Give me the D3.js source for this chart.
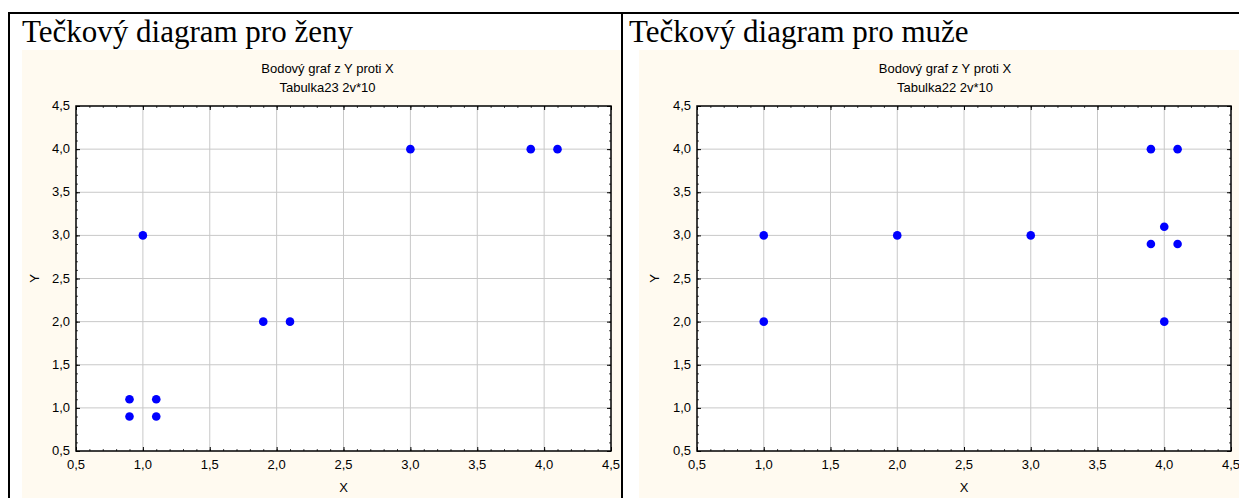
<!DOCTYPE html>
<html>
<head>
<meta charset="utf-8">
<script src="https://cdn.jsdelivr.net/npm/d3@7"></script>
<style>
  body { margin: 0; background: #fff; }
  svg { display: block; }
  text { font-family: "Liberation Sans", Arial, sans-serif; fill: #000; }
  .head { font-family: "Liberation Serif", "Times New Roman", serif; font-size: 31px; }
  .small { font-size: 13px; }
</style>
</head>
<body>
<div id="chart"></div>
<script>
// data
var zenyX = [0.9, 1.1, 0.9, 1.1, 1.0, 1.9, 2.1, 3.0, 3.9, 4.1]
var zenyY = [1.1, 1.1, 0.9, 0.9, 3.0, 2.0, 2.0, 4.0, 4.0, 4.0]
var muziX = [1.0, 1.0, 2.0, 3.0, 3.9, 4.1, 4.0, 3.9, 4.1, 4.0]
var muziY = [3.0, 2.0, 3.0, 3.0, 4.0, 4.0, 3.1, 2.9, 2.9, 2.0]
var ticks = [0.5, 1.0, 1.5, 2.0, 2.5, 3.0, 3.5, 4.0, 4.5]
var headings = ['Tečkový diagram pro ženy', 'Tečkový diagram pro muže']
var subtitles = ['Tabulka23 2v*10', 'Tabulka22 2v*10']

var width = 1239, height = 498

var cz = d3.formatLocale({decimal: ',', thousands: ' ', grouping: [3], currency: ['', ' Kč']})
var fmt = cz.format('.1f')

var svg = d3.select('#chart').append('svg')
    .attr('width', width).attr('height', height)

// panel layout
var panels = [
  {x: zenyX, y: zenyY, bgX: 22, bgW: 599, left: 76, right: 611, headX: 22, labX: 35},
  {x: muziX, y: muziY, bgX: 639, bgW: 600, left: 697, right: 1231, headX: 629, labX: 655}
]
var plotTop = 106, plotBottom = 451

panels.forEach(function(p, i){
  var g = svg.append('g')

  g.append('rect')
    .attr('x', p.bgX).attr('y', 50)
    .attr('width', p.bgW).attr('height', height - 50)
    .attr('fill', '#fffaf0')

  g.append('text').attr('class', 'head')
    .attr('x', p.headX).attr('y', 42)
    .text(headings[i])

  var cx = (p.bgX + p.bgW / 2) + 6
  g.append('text').attr('class', 'small').attr('x', cx).attr('y', 73)
    .attr('text-anchor', 'middle')
    .text('Bodový graf z Y proti X')
  g.append('text').attr('class', 'small').attr('x', cx).attr('y', 92)
    .attr('text-anchor', 'middle')
    .text(subtitles[i])

  var x = d3.scaleLinear().domain([0.5, 4.5]).range([p.left, p.right])
  var y = d3.scaleLinear().domain([0.5, 4.5]).range([plotBottom, plotTop])
  var minor = d3.range(5, 46).map(function(d){ return d / 10 })

  g.append('rect')
    .attr('x', p.left).attr('y', plotTop)
    .attr('width', p.right - p.left).attr('height', plotBottom - plotTop)
    .attr('fill', '#fff')

  // grid
  g.append('g').selectAll('line').data(ticks.slice(1, -1)).enter().append('line')
    .attr('x1', function(d){ return x(d) }).attr('x2', function(d){ return x(d) })
    .attr('y1', plotTop).attr('y2', plotBottom)
    .attr('stroke', '#c8c8c8')
  g.append('g').selectAll('line').data(ticks.slice(1, -1)).enter().append('line')
    .attr('y1', function(d){ return y(d) }).attr('y2', function(d){ return y(d) })
    .attr('x1', p.left).attr('x2', p.right)
    .attr('stroke', '#c8c8c8')

  // axes, ticks pointing inward on all four sides
  function sides(vals, size, color){
    var list = [
      [d3.axisTop(x), 'translate(0,' + plotBottom + ')'],
      [d3.axisBottom(x), 'translate(0,' + plotTop + ')'],
      [d3.axisRight(y), 'translate(' + p.left + ',0)'],
      [d3.axisLeft(y), 'translate(' + p.right + ',0)']
    ]
    list.forEach(function(a){
      var ag = g.append('g').attr('transform', a[1])
        .call(a[0].tickValues(vals).tickSize(size).tickFormat(''))
      ag.select('.domain').remove()
      ag.selectAll('.tick line').attr('stroke', color)
    })
  }
  sides(minor, 2, '#444')
  sides(ticks, 4, '#000')

  g.append('rect')
    .attr('x', p.left).attr('y', plotTop)
    .attr('width', p.right - p.left).attr('height', plotBottom - plotTop)
    .attr('fill', 'none').attr('stroke', '#000').attr('stroke-width', 1.5)

  // tick labels
  g.append('g').selectAll('text').data(ticks).enter().append('text')
    .attr('class', 'small')
    .attr('x', function(d){ return x(d) }).attr('y', plotBottom + 18)
    .attr('text-anchor', 'middle')
    .text(fmt)
  g.append('g').selectAll('text').data(ticks).enter().append('text')
    .attr('class', 'small')
    .attr('x', p.left - 6).attr('y', function(d){ return y(d) + 4 })
    .attr('text-anchor', 'end')
    .text(fmt)

  g.append('text').attr('class', 'small')
    .attr('x', (p.left + p.right) / 2).attr('y', 492)
    .attr('text-anchor', 'middle').text('X')
  g.append('text').attr('class', 'small')
    .attr('transform', 'translate(' + (p.labX + 4) + ',' + ((plotTop + plotBottom) / 2) + ') rotate(-90)')
    .attr('text-anchor', 'middle').text('Y')

  g.append('g').selectAll('circle').data(p.x).enter().append('circle')
    .attr('cx', function(d){ return x(d) })
    .attr('cy', function(d, j){ return y(p.y[j]) })
    .attr('r', 4.3)
    .attr('fill', '#0000ff')
})

// outer frame and divider
svg.append('rect')
  .attr('x', 9).attr('y', 13).attr('width', 1240).attr('height', 500)
  .attr('fill', 'none').attr('stroke', '#000').attr('stroke-width', 2)
svg.append('line')
  .attr('x1', 622).attr('x2', 622).attr('y1', 13).attr('y2', height)
  .attr('stroke', '#000').attr('stroke-width', 2)
</script>
</body>
</html>
